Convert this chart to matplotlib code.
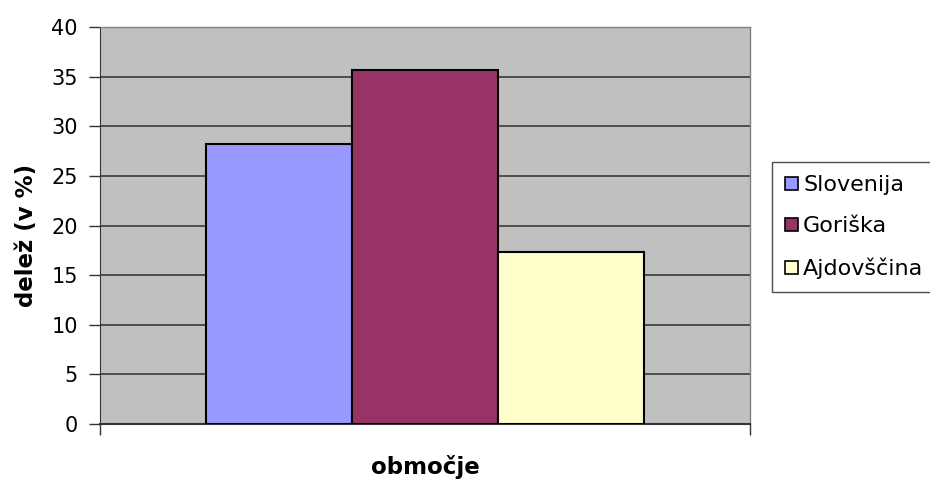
import matplotlib
matplotlib.use('Agg')
import matplotlib.pyplot as plt
import numpy as np

plt.rcParams['font.family'] = ['DejaVu Sans']

regions = ['Slovenija', 'Goriška', 'Ajdovščina']
shares = [28.2, 35.7, 17.3]
colors = ['#9999FF', '#993366', '#FFFFCC']
yticks = [0, 5, 10, 15, 20, 25, 30, 35, 40]

W, H = 930, 479
fig = plt.figure(figsize=(9.3, 4.79), dpi=100)
ax = fig.add_axes([100 / W, 55 / H, 650 / W, 396.7 / H])
ax.set_facecolor('#C0C0C0')

x = np.arange(len(regions)) - 1
for xi, v, c, name in zip(x, shares, colors, regions):
    ax.bar(xi, v, width=1.0, color=c, edgecolor='black', linewidth=1.5, label=name, zorder=3)

ax.set_ylim(0, 40)
ax.set_xlim(-2.23, 2.23)
ax.set_yticks(yticks)
ax.set_yticklabels([str(t) for t in yticks], fontsize=15)
ax.yaxis.grid(True, color='#3a3a3a', linewidth=1.2, zorder=1)
ax.set_axisbelow(True)
ax.set_xticks([-2.23, 2.23])
ax.set_xticklabels(['', ''])
ax.tick_params(axis='y', length=8, width=1, color='#333333', pad=8)
ax.tick_params(axis='x', length=8, width=1, color='#333333')

for s in ['top', 'right']:
    ax.spines[s].set_color('#808080')
    ax.spines[s].set_linewidth(1)
ax.spines['left'].set_color('#333333')
ax.spines['bottom'].set_color('#333333')
ax.spines['bottom'].set_linewidth(1.5)

fig.text(26 / W, 1 - 235 / H, 'delež (v %)', rotation=90, fontsize=16.5,
         fontweight='bold', ha='center', va='center')
fig.text(425 / W, 1 - 467 / H, 'območje', fontsize=16.5,
         fontweight='bold', ha='center', va='center')

leg = fig.legend(loc='upper left', bbox_to_anchor=(772 / W, 1 - 162 / H), fontsize=16,
                 frameon=True, fancybox=False, edgecolor='#222222', handlelength=0.55,
                 handleheight=0.55, handletextpad=0.25, borderpad=0.6, labelspacing=0.95,
                 borderaxespad=0)
leg.get_frame().set_linewidth(1)
for h in leg.legend_handles:
    h.set_linewidth(1.2)

fig.savefig('out.png', dpi=100)
